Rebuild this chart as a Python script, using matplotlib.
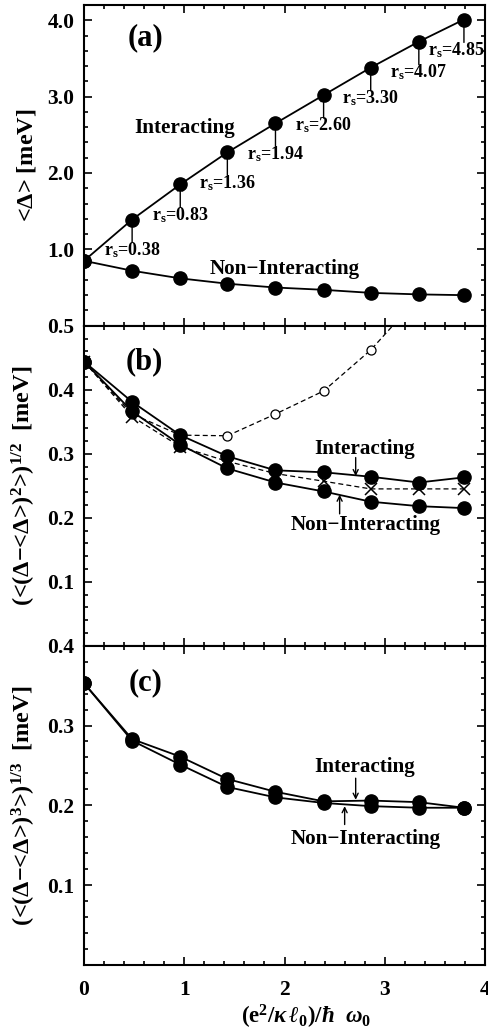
import matplotlib
matplotlib.use("Agg")
import matplotlib.pyplot as plt
from matplotlib.ticker import MultipleLocator, FixedLocator, FixedFormatter

plt.rcParams['font.family'] = ['Liberation Serif', 'DejaVu Serif']
plt.rcParams['font.weight'] = 'bold'
plt.rcParams['mathtext.fontset'] = 'custom'
plt.rcParams['mathtext.rm'] = 'Liberation Serif:bold'
plt.rcParams['mathtext.bf'] = 'Liberation Serif:bold'
plt.rcParams['mathtext.it'] = 'Liberation Serif:italic:bold'

# ---- data ----
x = [0.0, 0.48, 0.96, 1.43, 1.91, 2.39, 2.86, 3.34, 3.79]

# panel (a): mean gap
a_int = [0.85, 1.39, 1.85, 2.27, 2.65, 3.02, 3.38, 3.72, 4.01]
a_non = [0.85, 0.72, 0.62, 0.55, 0.50, 0.47, 0.43, 0.41, 0.40]
rs_labels = ['0.38', '0.83', '1.36', '1.94', '2.60', '3.30', '4.07', '4.85']

# panel (b): second moment
b_int = [0.444, 0.381, 0.329, 0.296, 0.274, 0.271, 0.264, 0.255, 0.263]
b_non = [0.444, 0.366, 0.314, 0.277, 0.255, 0.241, 0.225, 0.218, 0.215]
b_cross = [0.444, 0.358, 0.311, 0.288, 0.269, 0.257, 0.245, 0.245, 0.245]
b_open = [0.444, 0.362, 0.329, 0.328, 0.362, 0.398, 0.462, 0.545]
x_open = [0.0, 0.48, 0.96, 1.43, 1.91, 2.39, 2.86, 3.34]

# panel (c): third moment
c_int = [0.353, 0.283, 0.261, 0.233, 0.217, 0.205, 0.206, 0.204, 0.197]
c_non = [0.353, 0.281, 0.251, 0.223, 0.210, 0.203, 0.199, 0.197, 0.197]

W, H = 488, 1034
fig = plt.figure(figsize=(W / 100, H / 100), dpi=100)
left = 84 / W
width = 401 / W
ax_a = fig.add_axes([left, 1 - 325.7 / H, width, 320.7 / H])
ax_b = fig.add_axes([left, 1 - 645.7 / H, width, 320 / H])
ax_c = fig.add_axes([left, 1 - 965 / H, width, 319.3 / H])

FS_TICK = 15.5
FS_TXT = 15.2
FS_YLAB = 17.5
LW = 1.3
MS = 9.5

for ax in (ax_a, ax_b, ax_c):
    ax.set_xlim(0, 4)
    ax.xaxis.set_major_locator(MultipleLocator(1))
    ax.xaxis.set_minor_locator(MultipleLocator(0.2))
    ax.tick_params(which='both', direction='in', top=True, right=True, width=1.2)
    ax.tick_params(which='major', length=6, labelsize=FS_TICK, pad=7)
    ax.tick_params(which='minor', length=3)
    ax.tick_params(axis='x', which='major', pad=11)
    for s in ax.spines.values():
        s.set_linewidth(1.5)

for ax in (ax_a, ax_b):
    ax.tick_params(labelbottom=False)

arrow_kw = dict(arrowstyle='->', color='black', lw=1.0, shrinkA=0, shrinkB=0,
                mutation_scale=9)

# ---- panel (a) ----
ax_a.set_ylim(0, 4.2)
ax_a.yaxis.set_major_locator(FixedLocator([0, 1, 2, 3, 4]))
ax_a.yaxis.set_major_formatter(FixedFormatter(['', '1.0', '2.0', '3.0', '4.0']))
ax_a.yaxis.set_minor_locator(MultipleLocator(0.2))
ax_a.plot(x, a_int, '-o', color='black', lw=LW, ms=MS)
ax_a.plot(x, a_non, '-o', color='black', lw=LW, ms=MS)
rs_dx = [0, 0, 0, 0, 0, 0, 0, -0.08]
for xi, yi, lab, dx in zip(x[1:], a_int[1:], rs_labels, rs_dx):
    ax_a.annotate('', xy=(xi, yi), xytext=(xi, yi - 0.30), arrowprops=arrow_kw)
    ax_a.text(xi + dx, yi - 0.40, r'r$_\mathrm{s}$=' + lab, ha='center', va='center',
              fontsize=13, fontweight='bold')
ax_a.text(0.61, 3.77, '(a)', fontsize=22, fontweight='bold', ha='center', va='center')
ax_a.text(1.0, 2.59, 'Interacting', fontsize=FS_TXT, fontweight='bold', ha='center', va='center')
ax_a.text(2.0, 0.74, 'Non\u2212Interacting', fontsize=FS_TXT, fontweight='bold', ha='center', va='center')
ax_a.set_ylabel(r'<$\Delta$> [meV]', fontsize=FS_YLAB, fontweight='bold')

# ---- panel (b) ----
ax_b.set_ylim(0, 0.5)
ax_b.yaxis.set_major_locator(FixedLocator([0, 0.1, 0.2, 0.3, 0.4, 0.5]))
ax_b.yaxis.set_major_formatter(FixedFormatter(['', '0.1', '0.2', '0.3', '0.4', '0.5']))
ax_b.yaxis.set_minor_locator(MultipleLocator(0.02))
ax_b.plot(x_open, b_open, '--o', color='black', lw=0.9, ms=6.5, mfc='white', mew=0.9,
          dashes=(4, 2.5))
ax_b.plot(x, b_cross, '--x', color='black', lw=0.9, ms=8, mew=1.1, dashes=(4, 2.5))
ax_b.plot(x, b_int, '-o', color='black', lw=LW, ms=MS)
ax_b.plot(x, b_non, '-o', color='black', lw=LW, ms=MS)
ax_b.text(0.60, 0.443, '(b)', fontsize=22, fontweight='bold', ha='center', va='center')
ax_b.text(2.80, 0.307, 'Interacting', fontsize=FS_TXT, fontweight='bold', ha='center', va='center')
ax_b.annotate('', xy=(2.71, 0.265), xytext=(2.71, 0.294), arrowprops=arrow_kw)
ax_b.text(2.81, 0.189, 'Non\u2212Interacting', fontsize=FS_TXT, fontweight='bold', ha='center', va='center')
ax_b.annotate('', xy=(2.55, 0.236), xytext=(2.55, 0.206), arrowprops=arrow_kw)
ax_b.set_ylabel(r'(<($\Delta$$-$<$\Delta$>)$^\mathbf{2}$>)$^\mathbf{1/2}$  [meV]',
                fontsize=FS_YLAB, fontweight='bold')

# ---- panel (c) ----
ax_c.set_ylim(0, 0.4)
ax_c.yaxis.set_major_locator(FixedLocator([0, 0.1, 0.2, 0.3, 0.4]))
ax_c.yaxis.set_major_formatter(FixedFormatter(['', '0.1', '0.2', '0.3', '0.4']))
ax_c.yaxis.set_minor_locator(MultipleLocator(0.02))
ax_c.plot(x, c_int, '-o', color='black', lw=LW, ms=MS)
ax_c.plot(x, c_non, '-o', color='black', lw=LW, ms=MS)
ax_c.text(0.61, 0.354, '(c)', fontsize=22, fontweight='bold', ha='center', va='center')
ax_c.text(2.80, 0.248, 'Interacting', fontsize=FS_TXT, fontweight='bold', ha='center', va='center')
ax_c.annotate('', xy=(2.71, 0.207), xytext=(2.71, 0.234), arrowprops=arrow_kw)
ax_c.text(2.81, 0.158, 'Non\u2212Interacting', fontsize=FS_TXT, fontweight='bold', ha='center', va='center')
ax_c.annotate('', xy=(2.60, 0.199), xytext=(2.60, 0.176), arrowprops=arrow_kw)
ax_c.set_ylabel(r'(<($\Delta$$-$<$\Delta$>)$^\mathbf{3}$>)$^\mathbf{1/3}$  [meV]',
                fontsize=FS_YLAB, fontweight='bold')
ax_c.set_xlabel(r'(e$^\mathbf{2}$/$\kappa\,\ell_\mathbf{0}$)/$\hbar$  $\omega_\mathbf{0}$',
                fontsize=16.5, fontweight='bold')
ax_c.xaxis.set_label_coords(0.555, -0.118)

for ax in (ax_a, ax_b, ax_c):
    for lab in ax.get_xticklabels() + ax.get_yticklabels():
        lab.set_fontweight('bold')
    ax.yaxis.set_label_coords(-0.115, 0.5)

fig.savefig('out.png', dpi=100)
